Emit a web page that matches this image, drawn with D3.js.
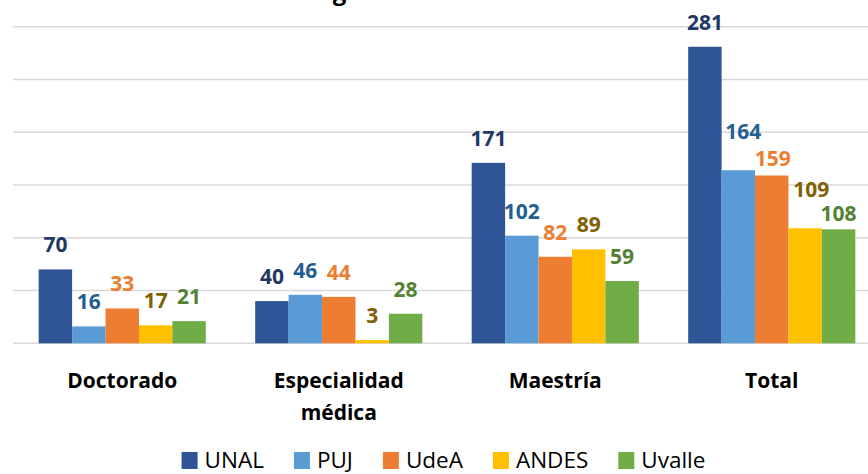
<!DOCTYPE html>
<meta charset="utf-8">
<style>
  body { margin: 0; background: #fff; }
  text { font-family: "Open Sans", sans-serif; }
</style>
<svg width="868" height="474"></svg>
<script src="https://cdn.jsdelivr.net/npm/d3@7"></script>
<script>
var svg = d3.select("svg"),
    width = +svg.attr("width"),
    height = +svg.attr("height");

// data
var categories = [["Doctorado"], ["Especialidad", "médica"], ["Maestría"], ["Total"]];
var series = ["UNAL", "PUJ", "UdeA", "ANDES", "Uvalle"];
var UNAL   = [70, 40, 171, 281];
var PUJ    = [16, 46, 102, 164];
var UdeA   = [33, 44, 82, 159];
var ANDES  = [17, 3, 89, 109];
var Uvalle = [21, 28, 59, 108];
var values = [UNAL, PUJ, UdeA, ANDES, Uvalle];
var yTicks = [0, 50, 100, 150, 200, 250, 300];

var fills  = ["#2f5597", "#5b9bd5", "#ed7d31", "#ffc000", "#70ad47"];
var labelColors = ["#1f3864", "#255e91", "#ed7d31", "#806000", "#548235"];

// hand-moved labels in the Total group (series index -> [dx, dy])
var totalNudge = {1: [5, -14], 2: [1, 7], 3: [6, -14], 4: [0, 9]};

// scales
var x0 = d3.scaleBand()
    .domain(d3.range(categories.length))
    .range([14, 880]);

var groupW = x0.bandwidth() * 0.772;
var x1 = d3.scaleBand()
    .domain(series)
    .range([0, groupW]);

var y = d3.scaleLinear()
    .domain([0, 300])
    .range([343.3, 26.7]);

// title, mostly cut off at top
svg.append("text")
    .attr("x", 455)
    .attr("y", -0.5)
    .attr("text-anchor", "middle")
    .style("font-size", "24px")
    .style("font-weight", "700")
    .style("fill", "#000")
    .text("Egresados totales 2016");

// grid
svg.append("g")
    .selectAll("line")
    .data(yTicks)
    .enter().append("line")
    .attr("x1", 13)
    .attr("x2", width)
    .attr("y1", function(d) { return y(d); })
    .attr("y2", function(d) { return y(d); })
    .style("stroke", "#d9d9d9")
    .style("stroke-width", 1.6);

// bars
var groups = svg.append("g")
    .selectAll("g")
    .data(categories)
    .enter().append("g")
    .attr("transform", function(d, i) {
        return "translate(" + (x0(i) + (x0.bandwidth() - groupW) / 2) + ",0)";
    });

function rows(d, i) {
    return series.map(function(s, j) { return {s: s, j: j, i: i, v: values[j][i]}; });
}

function nudge(d, k) {
    if (d.i === 3 && totalNudge[d.j]) return totalNudge[d.j][k];
    return 0;
}

groups.selectAll("rect")
    .data(rows)
    .enter().append("rect")
    .attr("x", function(d) { return x1(d.s); })
    .attr("width", x1.bandwidth())
    .attr("y", function(d) { return y(d.v); })
    .attr("height", function(d) { return y(0) - y(d.v); })
    .style("fill", function(d) { return fills[d.j]; });

groups.selectAll("text.val")
    .data(rows)
    .enter().append("text")
    .attr("class", "val")
    .attr("x", function(d) { return x1(d.s) + x1.bandwidth() / 2 + nudge(d, 0); })
    .attr("y", function(d) { return y(d.v) - 17 + nudge(d, 1); })
    .attr("text-anchor", "middle")
    .style("font-size", "21px")
    .style("font-weight", "700")
    .style("fill", function(d) { return labelColors[d.j]; })
    .text(function(d) { return d.v; });

// category labels
var catLabels = svg.append("g")
    .selectAll("text")
    .data(categories)
    .enter().append("text")
    .attr("x", function(d, i) { return x0(i) + x0.bandwidth() / 2; })
    .attr("y", 388)
    .attr("text-anchor", "middle")
    .style("font-size", "21px")
    .style("font-weight", "700")
    .style("fill", "#000");

catLabels.selectAll("tspan")
    .data(function(d) { return d; })
    .enter().append("tspan")
    .attr("x", function() { return d3.select(this.parentNode).attr("x"); })
    .attr("dy", function(d, i) { return i ? 32 : 0; })
    .text(function(d) { return d; });

// legend
var legend = svg.append("g");
var lx = 0, gap = 30;
series.forEach(function(s, j) {
    var item = legend.append("g").attr("transform", "translate(" + lx + ",0)");
    item.append("rect")
        .attr("x", 0).attr("y", 452)
        .attr("width", 16).attr("height", 17)
        .style("fill", fills[j]);
    var t = item.append("text")
        .attr("x", 23).attr("y", 468)
        .style("font-size", "22.5px")
        .style("fill", "#000")
        .text(s);
    lx += 23 + t.node().getComputedTextLength() + gap;
});
var legendW = lx - gap;
legend.attr("transform", "translate(" + (443.5 - legendW / 2) + ",0)");
</script>
